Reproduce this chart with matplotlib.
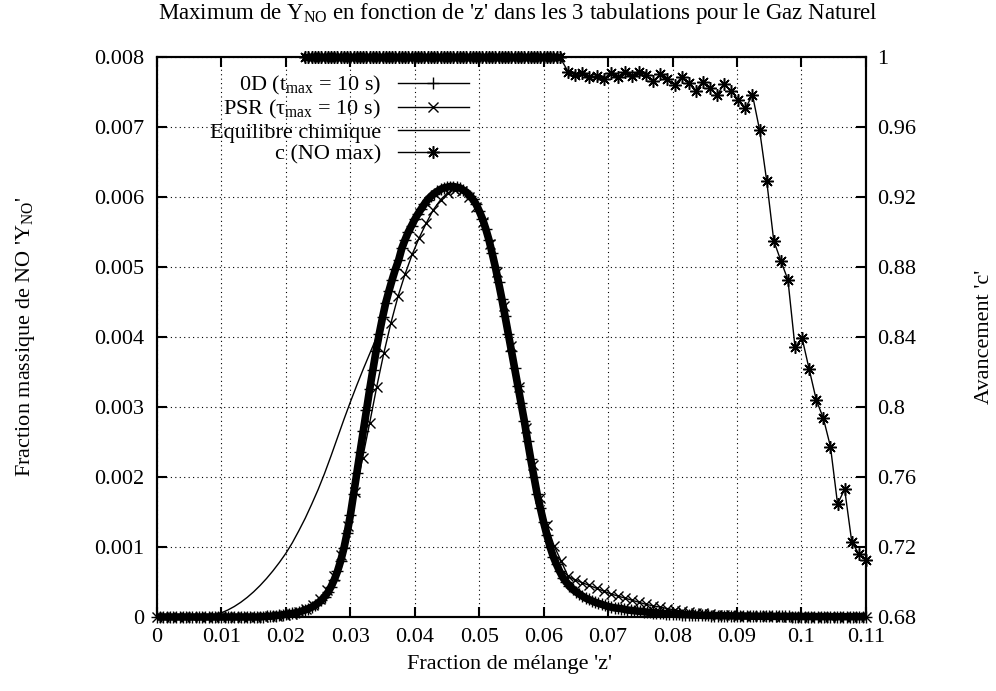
import numpy as np
import matplotlib
matplotlib.use("Agg")
import matplotlib.pyplot as plt
from matplotlib.lines import Line2D

plt.rcParams['font.family'] = ['Liberation Serif', 'DejaVu Serif']
plt.rcParams['mathtext.fontset'] = 'custom'
plt.rcParams['mathtext.rm'] = 'Liberation Serif'
plt.rcParams['mathtext.it'] = 'Liberation Serif:italic'

# ---------------- data ----------------
Z_MAX = 0.11
# 0D reactor, z grid step 0.0005 (values in 1e-3)
y0d_e3 = [
    0, 0, 0, 0, 0, 0, 0, 0, 0, 0,
    0, 0, 0, 0, 0, 0, 0, 0, 0, 0,
    0, 0, 0, 0, 0, 0, 0, 0, 0, 0,
    0, 0, 0, 0.005, 0.01, 0.01, 0.015, 0.02, 0.025, 0.03,
    0.04, 0.045, 0.05, 0.06, 0.07, 0.085, 0.10, 0.12, 0.14, 0.17,
    0.20, 0.24, 0.29, 0.35, 0.43, 0.53, 0.65, 0.80, 0.98, 1.20,
    1.45, 1.75, 2.05, 2.35, 2.65, 2.95, 3.25, 3.53, 3.80, 4.05,
    4.28, 4.49, 4.66, 4.82, 4.97, 5.10, 5.27, 5.39, 5.50, 5.59,
    5.68, 5.76, 5.83, 5.90, 5.96, 6.01, 6.05, 6.08, 6.11, 6.13,
    6.14, 6.15, 6.15, 6.14, 6.13, 6.10, 6.07, 6.02, 5.97, 5.90,
    5.80, 5.69, 5.55, 5.39, 5.20, 5.00, 4.78, 4.55, 4.30, 4.05,
    3.80, 3.55, 3.30, 3.05, 2.80, 2.52, 2.25, 2.00, 1.75, 1.55,
    1.35, 1.17, 1.00, 0.86, 0.75, 0.65, 0.56, 0.50, 0.44, 0.40,
    0.36, 0.33, 0.30, 0.27, 0.25, 0.23, 0.21, 0.195, 0.18, 0.165,
    0.15, 0.14, 0.13, 0.125, 0.12, 0.11, 0.10, 0.095, 0.09, 0.085,
    0.08, 0.075, 0.07, 0.065, 0.06, 0.057, 0.054, 0.051, 0.048, 0.045,
    0.042, 0.04, 0.037, 0.035, 0.033, 0.031, 0.029, 0.027, 0.026, 0.024,
    0.023, 0.022, 0.021, 0.02, 0.019, 0.018, 0.017, 0.016, 0.015, 0.015,
    0.014, 0.014, 0.013, 0.013, 0.012, 0.012, 0.011, 0.011, 0.010, 0.010,
    0.010, 0.009, 0.009, 0.009, 0.008, 0.008, 0.008, 0.007, 0.007, 0.007,
    0.007, 0.006, 0.006, 0.006, 0.006, 0.005, 0.005, 0.005, 0.005, 0.005,
    0.005, 0.004, 0.004, 0.004, 0.004, 0.004, 0.004, 0.004, 0.004, 0.003, 0.003,
]
# PSR, z grid step 0.0011 (values in 1e-3)
ypsr_e3 = [
    0, 0, 0, 0, 0, 0, 0, 0, 0, 0, 0, 0, 0, 0, 0,
    0.005, 0.01, 0.02, 0.03, 0.045,
    0.07, 0.11, 0.17, 0.25, 0.38, 0.58, 0.88, 1.30, 1.78, 2.27,
    2.77, 3.29, 3.77, 4.20, 4.58, 4.90, 5.18, 5.42, 5.63, 5.82,
    5.96, 6.06, 6.10, 6.08, 6.00, 5.86, 5.64, 5.33, 4.93, 4.44,
    3.87, 3.28, 2.70, 2.17, 1.70, 1.32, 1.02, 0.80, 0.58, 0.53,
    0.49, 0.45, 0.41, 0.37, 0.33, 0.30, 0.27, 0.24, 0.21, 0.18,
    0.16, 0.14, 0.12, 0.10, 0.085, 0.07, 0.06, 0.05, 0.04, 0.035,
    0.03, 0.025, 0.02, 0.016, 0.013, 0.011, 0.009, 0.008, 0.007, 0.006,
    0.005, 0.004, 0.004, 0.003, 0.003, 0.002, 0.002, 0.002, 0.001, 0.001,
    0.001,
]
# chemical equilibrium, z grid step 0.001 (values in 1e-3)
yeq_e3 = [
    0, 0, 0, 0, 0, 0, 0.005, 0.01, 0.02, 0.035,
    0.06, 0.10, 0.15, 0.21, 0.28, 0.36, 0.45, 0.55, 0.66, 0.78,
    0.91, 1.06, 1.23, 1.41, 1.61, 1.82, 2.05, 2.30, 2.56, 2.82,
    3.07, 3.31, 3.54, 3.76, 3.98, 4.22, 4.66, 4.97, 5.27, 5.50,
    5.68, 5.83, 5.96, 6.05, 6.11, 6.14, 6.15, 6.13, 6.07, 5.97,
    5.80, 5.55, 5.20, 4.78, 4.30, 3.80, 3.30, 2.80, 2.25, 1.75,
    1.35, 1.00, 0.75, 0.56, 0.44, 0.36, 0.30, 0.25, 0.21, 0.18,
    0.15, 0.13, 0.12, 0.11, 0.095, 0.08, 0.07, 0.06, 0.054, 0.048,
    0.042, 0.037, 0.033, 0.029, 0.026, 0.023, 0.021, 0.019, 0.017, 0.015,
    0.014, 0.013, 0.012, 0.011, 0.010, 0.010, 0.009, 0.008, 0.008, 0.007,
    0.007, 0.006, 0.006, 0.006, 0.005, 0.005, 0.005, 0.004, 0.004, 0.004,
    0.004,
]
# progress variable c at NO max: plateau (on the 0D grid, indices 46..125)
c_plateau = [
    1.0, 1.0, 1.0, 1.0, 1.0, 1.0, 1.0, 1.0, 1.0, 1.0,
    1.0, 1.0, 1.0, 1.0, 1.0, 1.0, 1.0, 1.0, 1.0, 1.0,
    1.0, 1.0, 1.0, 1.0, 1.0, 1.0, 1.0, 1.0, 1.0, 1.0,
    1.0, 1.0, 1.0, 1.0, 1.0, 1.0, 1.0, 1.0, 1.0, 1.0,
    1.0, 1.0, 1.0, 1.0, 1.0, 1.0, 1.0, 1.0, 1.0, 1.0,
    1.0, 1.0, 1.0, 1.0, 1.0, 1.0, 1.0, 1.0, 1.0, 1.0,
    1.0, 1.0, 1.0, 1.0, 1.0, 1.0, 1.0, 1.0, 1.0, 1.0,
    1.0, 1.0, 1.0, 1.0, 1.0, 1.0, 1.0, 1.0, 1.0, 1.0,
]
# then on the PSR grid (indices 58..100)
c_tail = [
    0.9916, 0.9897, 0.9907, 0.9884, 0.9891, 0.9874, 0.9910, 0.9887, 0.9913, 0.9891,
    0.9916, 0.9897, 0.9863, 0.9901, 0.9873, 0.9840, 0.9884, 0.9850, 0.9808, 0.9859,
    0.9825, 0.9783, 0.9846, 0.9806, 0.9754, 0.9707, 0.9783, 0.9583, 0.9293, 0.8950,
    0.8836, 0.8726, 0.8341, 0.8393, 0.8215, 0.8040, 0.7935, 0.7773, 0.7446, 0.7530,
    0.7230, 0.7160, 0.7126,
]

x_ticks = [0, 0.01, 0.02, 0.03, 0.04, 0.05, 0.06, 0.07, 0.08, 0.09, 0.1, 0.11]
x_ticklabels = ["0", "0.01", "0.02", "0.03", "0.04", "0.05", "0.06", "0.07",
                "0.08", "0.09", "0.1", "0.11"]
y_ticks = [0, 0.001, 0.002, 0.003, 0.004, 0.005, 0.006, 0.007, 0.008]
y_ticklabels = ["0", "0.001", "0.002", "0.003", "0.004", "0.005", "0.006",
                "0.007", "0.008"]
y2_ticks = [0.68, 0.72, 0.76, 0.8, 0.84, 0.88, 0.92, 0.96, 1.0]
y2_ticklabels = ["0.68", "0.72", "0.76", "0.8", "0.84", "0.88", "0.92", "0.96", "1"]

labels = [r"0D (t$_{\mathrm{max}}$ = 10 s)",
          r"PSR ($\mathrm{\tau}_{\mathrm{max}}$ = 10 s)",
          "Equilibre chimique",
          "c (NO max)"]

# ---------------- grids ----------------
z0d = np.linspace(0, Z_MAX, len(y0d_e3))
zpsr = np.linspace(0, Z_MAX, len(ypsr_e3))
zeq = np.linspace(0, Z_MAX, len(yeq_e3))
c_z = np.concatenate([z0d[46:46 + len(c_plateau)], zpsr[len(zpsr) - len(c_tail):]])
c_v = np.array(c_plateau + c_tail)

FS = 16
fig = plt.figure(figsize=(9.96, 6.91), dpi=100)
ax = fig.add_axes([0.1576, 0.1071, 0.7118, 0.8104])

y0d = np.array(y0d_e3) * 1e-3
# dense marker band of the 0D curve
ax.plot(z0d, y0d, color='black', lw=5.5, solid_capstyle='butt',
        solid_joinstyle='round', clip_on=False, zorder=3)
ax.plot(z0d, y0d, color='black', lw=1.0, marker='+', ms=9, mew=1.0,
        clip_on=False, zorder=3)
ax.plot(zpsr, np.array(ypsr_e3) * 1e-3, color='black', lw=1.0, marker='x',
        ms=7, mew=1.0, clip_on=False, zorder=4)
ax.plot(zeq, np.array(yeq_e3) * 1e-3, color='black', lw=1.0, clip_on=False,
        zorder=3)

ax.set_xlim(0, Z_MAX)
ax.set_ylim(0, 0.008)
ax.set_xticks(x_ticks)
ax.set_xticklabels(x_ticklabels)
ax.set_yticks(y_ticks)
ax.set_yticklabels(y_ticklabels)
ax.grid(True, color='black', linestyle=(0, (1, 3)), lw=0.8)
ax.set_axisbelow(True)
ax.tick_params(axis='x', direction='in', length=7, width=1.5, labelsize=FS,
               top=True, pad=8)
ax.tick_params(axis='y', direction='in', length=7, width=1.5, labelsize=FS,
               right=False, pad=9)

ax2 = ax.twinx()
ax2.plot(c_z, c_v, color='black', lw=1.0, marker=(8, 2, 0), ms=9, mew=1.1,
         clip_on=False, zorder=3)
ax2.set_ylim(0.68, 1.0)
ax2.set_yticks(y2_ticks)
ax2.set_yticklabels(y2_ticklabels)
ax2.tick_params(axis='y', direction='in', length=7, width=1.5, labelsize=FS, pad=8)

for a in (ax, ax2):
    for s in a.spines.values():
        s.set_linewidth(1.5)

handles = [
    Line2D([], [], color='black', lw=1.0, marker='+', ms=9, mew=1.0),
    Line2D([], [], color='black', lw=1.0, marker='x', ms=7, mew=1.0),
    Line2D([], [], color='black', lw=1.0),
    Line2D([], [], color='black', lw=1.0, marker=(8, 2, 0), ms=9, mew=1.1),
]
leg = ax2.legend(handles, labels, loc='upper right', bbox_to_anchor=(0.4525, 0.985),
                 frameon=False, markerfirst=False, alignment='right',
                 handlelength=3.2, handletextpad=0.75, labelspacing=0.05,
                 fontsize=FS, numpoints=1, borderaxespad=0.0)

fig.text(0.52, 1 - 13 / 691,
         r"Maximum de Y$_{\mathrm{NO}}$ en fonction de 'z' dans les 3 tabulations pour le Gaz Naturel",
         ha='center', va='center', fontsize=16.5)
fig.text(0.512, 1 - 665 / 691, "Fraction de mélange 'z'", ha='center', va='center',
         fontsize=FS)
fig.text(26 / 996, 1 - 337 / 691, r"Fraction massique de NO 'Y$_{\mathrm{NO}}$'",
         ha='center', va='center', rotation=90, fontsize=FS)
fig.text(984 / 996, 1 - 337 / 691, "Avancement 'c'", ha='center', va='center',
         rotation=90, fontsize=FS)

fig.savefig("out.png", dpi=100)
